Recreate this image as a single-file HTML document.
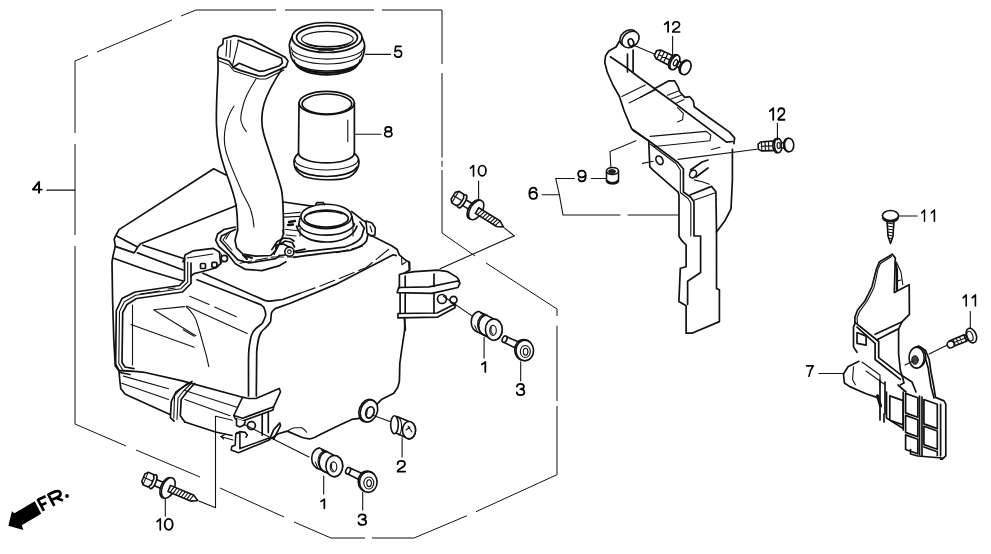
<!DOCTYPE html>
<html><head><meta charset="utf-8"><style>
html,body{margin:0;padding:0;background:#fff;}
body{width:991px;height:554px;overflow:hidden;}
svg{display:block;}
text{font-family:"Liberation Sans",sans-serif;font-size:17px;fill:#111;}
.l{fill:none;stroke:#111;stroke-width:1.7;stroke-linejoin:round;stroke-linecap:round;}
.t{fill:none;stroke:#111;stroke-width:1.1;stroke-linecap:round;}
.f{fill:#fff;stroke:#111;stroke-width:1.6;stroke-linejoin:round;}
.d{fill:none;stroke:#111;stroke-width:1;}
</style></head><body>
<svg width="991" height="554" viewBox="0 0 991 554">
<rect width="991" height="554" fill="#fff"/>
<!-- FRAME -->
<g class="d">
<path d="M75,133 V61 L88,55.5 M97,52 L172,20 M181,16 L196,10 H276 M285,10 H374 M382,10 H442 V64 M442,73 V157.6 M442,160.8 V166.8 M442,170 V233 L475,256 M486,263 L557,309 V316 M557,325.7 V401 M557,406 V474.7 L476,511.7 M467,515.7 L414,538 H372 M365,538 H331 L294,522 M284,517 L220,488 M200,477 L136,450 M126,446 L75,424 V246 M75,235 V144"/>
</g>

<!-- TANK -->
<g class="l">
<!-- top ridge and top face -->
<path d="M226,175 L213.7,168.8 L119,229.6 L115.8,235.6 L137.5,247 L140.7,243.7 L236.5,205.5"/>
<path d="M115.8,235.6 L114.2,238.8 L115.3,246.4 L134.2,252.9 L137.5,247.5"/>
<path d="M115.3,246.4 L113,256 L112,262 L112.6,300 L113.8,340 L115.3,366 L119,370.7 L119.9,381.5 L120.8,388.7 L125.3,394.2 L170,414.5"/>
<path d="M184.8,422 L215.5,432 L232,435.5"/>
<path d="M113.7,258.3 L147.2,270.2 L183,281"/>
<path d="M137.5,252.9 L183,270"/>
<path d="M142.9,245.3 L185,259"/>
<!-- bracket top-left with holes -->
<path d="M183,262 L185.3,254.7 L192.9,250.9 L213,248.3 L219.4,252 L220.7,263.5 L215.6,268 L201.7,271.7 L194,273.6 L191,276"/>
<path d="M184.5,259.5 L184.5,280.5 L179.5,285.5 L135,292 L122,298.5 L116.3,310.5 L115.6,364 L120,372.5 L130,374.5"/>
<path d="M187.7,262 L187.7,282 L181,288.7 L135.7,295.2 L124.4,301.7 L119.5,311.5 L118.8,363.5 L122.7,370 L132.5,371.6" class="t"/>
<path d="M191,263 L191,283.5 L182.5,292 L136.5,298.5 L127,304.5 L122.7,312.5 L122,362.5 L125,367 L134,368.6"/>
<path d="M160,291 L140,294 M175,288 L168,289" stroke-width="2.2" class="t"/>
<rect x="200.5" y="263.5" width="5" height="5" rx="1"/>
<rect x="211.9" y="262.3" width="5" height="5" rx="1"/>
<path d="M187,258 L213,254" class="t"/>
<circle cx="224.3" cy="258.5" r="3.2"/>
<path d="M219.4,252 L222,255.5 M220.7,263.5 L222.5,261.5" class="t"/>
<!-- left panel lines -->
<path d="M130.9,324.5 L194.2,347.2" class="t"/>
<path d="M153.6,309.8 L184.5,306.6 M153.6,309.8 L195.8,335.8" class="t"/>
<path d="M186.1,306.6 C192,312 196,318 197.5,324.5 C200,332 202,340 204,347.2 C206,354 207.5,360 208.8,366.7" class="t"/>
<path d="M189.7,296.2 L209.2,304.4 M214.7,307.1 L236.3,316.8 M186.5,306 L247.2,333.6 M183.2,329.8 L194.1,336.3" class="t"/>
<path d="M132.5,305 L132.5,365" class="t"/>
<!-- duct base flange -->
<path d="M235.3,227 L224,229.5 L217.6,234 L215.7,240.3 L218.9,246.6 L229,255.5 L235.3,263.7 L245.5,269.4 L261.9,270.6 L279.6,265.6 L285.9,261.8"/>
<path d="M235.3,229.5 L221.4,235.9 L220.2,240.3 L230.3,251.7 L237.9,259.9 L249.2,263 L275.8,258.6 L279.6,255.5"/>
<path d="M227,234 L223,240 L232,250 M230,232 L226,239" class="t"/>
<path d="M237.6,230 L235,240.3 L236.6,247.9 L242.9,254.2 L255.6,256.1 L270.7,255.5 L275.8,250.4 L280.9,240.3 L283.5,234 L283,230"/>
<path d="M275.8,250 L276,245 L283.4,244 L289,247 M279.6,255.5 L285,255"/>
<path d="M271.8,249.6 L277.2,241.5 L284,238.1 L290,238.5 L294,241 M274,254 L278.5,245 L285.3,241 L292.1,242.5 L294.5,247"/>
<circle cx="289.4" cy="251.7" r="4.6" class="f"/>
<circle cx="289.4" cy="251.7" r="1.8" class="t"/>
<path d="M284,213.7 L300.2,212.4 M284,217.1 L300,216.4 M285.3,229.3 L297.5,230.7 M286,235 L296,236" class="t"/>
<path d="M289,222 L295,221 M288,225 L293,224.5" stroke-width="2.4"/>
<path d="M293.5,251.7 L305,249.1"/>
<path d="M246,256 L252,258 M243,255 L247,259" stroke-width="2"/>
<path d="M396.2,255.6 L393.2,254.8 L335.7,284.4 L290.3,303.3 L275.1,308.6 C273,310.5 271.8,312 271.4,313.1 C271,316 271,319 270.5,321.8 C268,326 264,329 261.2,332 C259.5,335 258,340 257.5,345 C257,348 256.7,350 256.7,352.2 L256.3,396"/>
<path d="M197,279.8 L239.6,296.2 L261.2,304.9 C263.5,306.5 264.5,308 264.5,309.2 C265.5,311.5 265.8,313.5 265.6,315.7 C264.5,319 263.5,321 262.3,323.3 C259,326 257,327.5 255.8,328.7 C253.5,331 252.2,333 251.5,335.2 C250.6,338 250.4,340 250.4,340 C249,346 248.5,352 248.5,360 L248.5,396"/>
<path d="M203,273.2 L264.7,300.4 C267,301.2 269,301.3 272,300.8 L282.7,299.5 L300,293.3"/>
<path d="M300,293.3 L320.5,285.9 L366,267.7 L390.2,248" class="t" stroke-dasharray="16,5"/>
<!-- tank top right side -->
<path d="M240,263.3 L272.9,257 L295.6,257 M336.5,252.7 L362.5,246.2" class="t" stroke-dasharray="12,4"/>
<!-- front-right vertical curved corner -->
<!-- right side -->
<path d="M404.7,318.8 L404.7,329.8 L401.7,349.6 L399.8,363.5 L399.4,381.3 L397.8,387.3 L393.8,393.3 L381.9,399.2 L376,405.2"/>
<!-- bottom -->
<path d="M359.3,418.3 L351.6,419.4 C340,425 325,432 315,437.2 C312,438.5 310.5,438.8 309.4,438.8 C306,438.5 304,438 301.6,437.2 L287.2,431.1 L278.3,433.8 L271.7,438.3"/>
<path d="M288.3,430.5 C291,428.5 293,427.7 295,427.7 L301.6,427.7 C303.5,428.5 305.5,430.5 306.6,432.2" class="t"/>
<ellipse cx="367.8" cy="410.6" rx="8.6" ry="11.6" transform="rotate(20 367.8 410.6)" class="f"/>
<ellipse cx="369" cy="411" rx="8.3" ry="11.3" transform="rotate(20 369 411)" class="f"/>
<ellipse cx="369.9" cy="412.4" rx="4" ry="5.8" transform="rotate(20 369.9 412.4)"/>
<path d="M367.5,408 L366.5,416" class="t" stroke-width="1.6"/>
<!-- lower band -->
<path d="M119,370.7 C130,371 140,372 145.1,372.5 L181.2,380.6 L244.4,397.8"/>
<path d="M123.5,376.1 L168.6,388.7 M121.7,383.3 L168.6,399.6 M184.8,390.5 L240.8,408.6 M184.8,399.6 L230,415.8" class="t"/>
<!-- vertical strap -->
<path d="M192,381.5 L183,387 L175.8,392.3 L171.3,401.4 L170.4,417.6 L174,421.2"/>
<path d="M194.8,383.3 L186.6,392.3 L181.2,399.6 L180.3,415.8 L184.8,422.1"/>
<path d="M188.5,382.5 L180,389.5 L174.5,396 L173.8,418" class="t"/>
<path d="M191.5,383 L183.5,391 L178,398 L177,419.5" class="t"/>
<!-- bottom bracket -->
<path d="M262.2,414.1 L262.2,435.1 M268.3,412.1 L268.3,432.4"/>
<path d="M269.7,439.2 L273.7,429.7 L279.8,422.9 L280.5,425.6 L273.7,439.2"/>
<path class="f" d="M235.8,433.7 L235.2,445.2 L231.8,446.6 L231.1,450 L238.5,452.7 L269.7,439.8 L269.7,437.8 L239.9,448.6 L239.9,433 Z"/>
<path d="M236.5,433.1 L239.9,431.7 L245.3,432.4 L247.3,435.1 L246,437.1"/>
<circle cx="251.4" cy="425.6" r="4"/>
<path class="f" d="M242.6,397.2 L248.7,398.5 L256.1,398.5 L279.2,388.4 L280.5,391.8 L273.7,406.7 L273,410 L242.6,420.9 L235.2,418.8 L233.8,415.5 Z"/>
<path d="M233.8,415.5 L242.6,418.2 L273.7,406.7"/>
<path class="f" d="M236.5,418.8 L236.5,425.6 L239.9,427 L244,425 L245.3,421.6"/>
<path d="M216,416.3 L232.3,420.3" class="t"/>
<path d="M215.5,416.3 V507.6" class="t"/>
<path d="M220.5,436.5 L233,440 M221,436.6 L224.5,434.8 M221,436.6 L223.5,439" class="t"/>

</g>

<!-- RING 5 -->
<g class="l">
<path d="M292,37 C290,41 289,45 289.5,47 C290,53 291,58 293,61 L296.4,65 A31,12 0 0 0 357,65.6 L361,61 C363,57 364.5,52 364.7,46 C365,43 363,40 362,37" />
<ellipse cx="327" cy="37.5" rx="35" ry="15"/>
<ellipse cx="327" cy="37.5" rx="30.5" ry="11.8"/>
<ellipse cx="327.4" cy="39" rx="25.9" ry="7.6" class="t"/>
<path d="M306,43 A22,5 0 0 0 349,43" class="t"/>
<path d="M291,47 A36,12 0 0 0 364,47" class="t"/>
<path d="M292,52 A35,12 0 0 0 362,52" class="t"/>
<path d="M294,60 A33,11 0 0 0 360,60" />
<path d="M296.5,65 A31,10 0 0 0 357,65" stroke-width="2.2"/>
<path d="M319,49.5 L333,49.5" stroke-width="2.4"/>
</g>
<!-- PIPE 8 -->
<g class="l">
<ellipse cx="326.7" cy="103" rx="27.7" ry="11.7"/>
<ellipse cx="326.9" cy="104" rx="24.8" ry="10"/>
<path d="M299,103 L298.5,153.5 M354.4,103 L354.4,153.5"/>
<path d="M347.8,120 L347.8,141.8" class="t"/>
<path d="M298.5,153.5 C295,156 294,159 294,162.6 C294,168 297,173 304,176.5 C314,180.5 340,181 349,177 C355,174 359,168 359,162.6 C359,159 358,156 354.4,153.5"/>
<path d="M298.5,153.5 A28,10 0 0 0 354.4,153.5" />
<path d="M295,160 A31.5,10 0 0 0 358,160" class="t"/>
<path d="M296,167 C300,174 315,176.5 326.7,176.5 C338,176.5 353,174 357,167" />
</g>
<!-- DUCT -->
<g class="l">
<path d="M223.3,38.9 L234.5,35.6 L239.2,36.6 L247.7,39.4 L251.4,39.4 L285.2,57.2 L288,61 L286.2,66.6 L264.6,76 L259,76 L240.2,70.4 L233.6,67.6 L228.9,61 L217.6,57.2 L217.6,51.6 L218.6,47.4 L222.8,44.1 Z"/>
<path d="M238.3,40.3 L281.5,58.2 L282.4,62.9 L279.6,65.7 L264.6,70.8 L259,71.3 L239.2,63.3 L235.5,65.7 L232.7,67.1"/>
<path d="M238.3,40.3 L237.4,46 L234.5,57.2 L232.7,64.7" class="t"/>
<path d="M227,40.3 L226,56.3 M230.8,40.3 L229.8,57.2" class="t"/>
<path d="M219,61 L229,65 L234,71 L259,79 L266,79 L284,70" class="t"/>
<path d="M218,56.6 L218,72 C217,90 216,110 216.5,125 C217,140 220,155 224.7,168.5 C229,181 234,193 236,205 C237.5,215 237.6,222 237.6,230"/>
<path d="M283,67.4 C276,78 268,90 264,104 C261,115 261,125 264,135 C270,155 278,175 281.5,190 C283.5,200 283.5,215 283.5,234"/>
<path d="M256,79 C249,90 244,100 243,106 C241,113 240.5,118 241,121 C242,126 244,129 246.3,131.7" class="t"/>
<path d="M234,106 C230,112 226,120 224.7,131.7 C223.5,142 225,150 228,157.6 C233,172 239,184 242,192.3 C246,200 249,205 250.6,209.6 C252.5,215 253.5,221 254,227" class="t"/>
</g>
<!-- FILLER NECK -->
<g class="l">
<path d="M283.4,202 L313.6,206.4"/>
<path d="M351.5,211.3 L362.3,219.9 L366,222"/>
<path d="M299,224.5 C302,231 312,235.1 326.6,235.1 C342,235.1 352,230 354.5,224"/>
<path d="M296.5,226 C299,237 312,242 326.6,242 C341,242 354,236.5 357,226"/>
<path d="M300,228 L300,236 M353,228 L353,236" class="t"/>
<path d="M296,252.7 C315,250 335,248.5 345.4,246.8 C354,244 360,240 361.8,236.3 L364.2,228 L360,222"/>
<path d="M293.8,257.4 C315,254 338,252 350,250.4 C358,248 364,245 366.5,241 L368.9,230.4 L366,222"/>
<path d="M300,218 L298.4,226.4 M352,216.5 L353.7,226.4"/>
<ellipse cx="326.3" cy="216.4" rx="25.4" ry="12.2" class="f"/>
<ellipse cx="326.3" cy="218.6" rx="22" ry="8.4"/>
<path d="M308,223 A18,5 0 0 0 344,223" class="t"/>
<path d="M310,214 A17,4 0 0 1 342,214" class="t"/>
<path d="M315.8,204.5 L317,202.6 L323.3,202.6 L324.5,204.5" />
<path d="M366,221 L372,223 L375.3,228 L375,235 L371,236 L367,233 Z" class="f"/>
<path d="M370,226 L372,232" class="t"/>
<path d="M371.2,235.4 L391.7,245.7 L397.2,249.5 L399.3,254.9 L405.8,260.3 L409.6,262.5 L409.6,270"/>
<path d="M401.5,258 L402,264.7 L405.8,262" class="t"/>
</g>

<defs>
<g id="bolt10">
<path class="f" d="M7,-3.3 L22,-3.3 L22,3.3 L7,3.3 Z"/>
<ellipse class="f" cx="20.5" cy="0.3" rx="6" ry="10.8"/>
<ellipse class="f" cx="22" cy="0" rx="6" ry="10.8"/>
<path class="f" d="M23,-3.3 L48,-3.3 L54,0 L48,3.3 L23,3.3 Z"/>
<path class="t" d="M27,-3 L25.5,3 M30,-3 L28.5,3 M33,-3 L31.5,3 M36,-3 L34.5,3 M39,-3 L37.5,3 M42,-3 L40.5,3 M45,-3 L43.5,3 M48,-3 L46.5,3" stroke-width="1.2"/>
<ellipse class="f" cx="5.5" cy="0" rx="2.8" ry="7.4"/>
<path class="f" d="M-5,-4 L-2.5,-6.8 L3,-6.8 L5,-3.5 L5,3.5 L3,6.8 L-2.5,6.8 L-5,4 Z"/>
<path class="t" d="M-5,-0.3 L5,-0.3 M-2.6,-6.4 L-2.6,6.4"/>
</g>
<g id="part1">
<path class="f" d="M-15,-18.2 L0,-10.6 A8.4,10.6 0 0 1 0,10.6 L-15,2.9 A8.4,10.6 0 0 1 -15,-18.2 Z"/>
<path class="t" d="M-6.5,-14.5 A8.4,10.6 0 0 0 -6.5,6.7 M-9,-15.5 A8.4,10.6 0 0 0 -9,5.5" stroke-width="1.5"/>
<path class="t" d="M-7.8,-15 A8.4,10.6 0 0 0 -7.8,6.1" stroke-width="0.8"/>
<path class="t" d="M-19,-4 L-16,3 M-13,-16 L-10,-15" />
<ellipse class="f" cx="0" cy="0" rx="8.4" ry="10.6"/>
<ellipse class="t" cx="-0.8" cy="0.8" rx="3.3" ry="5"/>
<path class="t" d="M-2.5,-2 A3,4.5 0 0 0 -1,4.5" stroke-width="1.4"/>
</g>
<g id="part3">
<path class="f" d="M-19,-14.2 L-6,-8.5 L-8.5,-2 L-21.5,-8.5 Z"/>
<ellipse class="f" cx="-20.2" cy="-11.3" rx="2.2" ry="3.4" transform="rotate(25 -20.2 -11.3)"/>
<ellipse class="f" cx="-1.3" cy="-0.6" rx="8.8" ry="10.4"/>
<ellipse class="f" cx="0" cy="0" rx="8.8" ry="10.4"/>
<ellipse class="t" cx="0.5" cy="1" rx="5" ry="6"/>
<ellipse class="t" cx="0.8" cy="1.2" rx="2.3" ry="3.4"/>
</g>
</defs>
<use href="#bolt10" transform="translate(457.5,198.4) rotate(31.8)"/>
<use href="#bolt10" transform="translate(148,479.5) rotate(22.8)"/>
<use href="#part1" transform="translate(493.8,329.6)"/>
<use href="#part1" transform="translate(334.3,466.1)"/>
<use href="#part3" transform="translate(524.8,350.5)"/>
<use href="#part3" transform="translate(368.3,482)"/>
<!-- leaders (dashed-ish) -->
<g class="t">
<path d="M504,227.6 L514.3,235.8 L440,268.7"/>
<path d="M198.9,501 L215,507.6"/>
<path d="M443.4,296.2 L472.6,316.4"/>
<path d="M372,415 L390.7,421.8"/>
<path d="M244,424.3 L309,457"/>
</g>
<!-- PART 2 -->
<g class="l">
<path class="f" d="M397,416.5 L409,421.5 A6.5,8.7 0 0 1 409,439 L396,433 Z"/>
<ellipse class="f" cx="409" cy="430.2" rx="6.5" ry="8.7"/>
<ellipse class="f" cx="394.5" cy="424.8" rx="3.8" ry="9"/>
<path class="t" d="M399,418 A3.8,9 0 0 1 399,435 M408,426 L412,432 M406,430 L410,427"/>
</g>
<!-- BLOCK on tank right -->
<g class="l">
<path d="M408.8,261.6 L409.5,270.2 L404.4,273.1 L399.4,274.5 L399.4,288"/>
<path d="M404.4,273.1 L414.5,271.7 L437.7,270.2 L447.8,271.7 L457.1,277.4 L459.3,281"/>
<path d="M398.7,287.5 L429,286.8 L457.9,281 L460,283.2 L457.9,287.5 L431.9,293.3 L397.2,292.6 Z"/>
<path d="M400.1,293 L400.1,313.5 M434,274 L434,286.5 M434,293.3 L434,313 M405.2,276 L405.2,287 M405.2,293 L405.2,313"/>
<path d="M398,313.5 L398,317.9 L437.7,317.1 L455,307.8 L455,304 L437,313 L398,313.5"/>
<circle cx="442" cy="299" r="4.5"/>
<circle cx="453.5" cy="299.8" r="3.5"/>
<path d="M404.4,317.9 L405.4,330"/>
</g>

<!-- BRACKET 6 -->
<g class="l">
<path d="M619.4,41.2 L616,47 L608.8,51 L605.6,55.8 L604.7,62.3 L607.2,72 L612.9,85 L619.4,96.4 L624.2,111 L631.7,128.8 L646.8,139.6 L648.7,140.8 L649.8,166.9 L653,170.1 L677.9,191.8 L679,195 L679,236.2 L681.8,240.7 L686.1,245 L686.1,266.7 L680.3,268.2 L678.9,301.4 L686.1,305.7 L686.1,333.2 L691.9,333.2 L719.4,321.6 L719.4,289.8 L716.5,288.4 L716.5,232 L725.1,220.5 L731,208.9 L732.4,180 L732.4,149.3"/>
<path d="M610.4,56.7 L625.8,67.2 L640,78 L674.7,103.2 L720.9,137.9 L726.7,142.2 L732.4,141.5"/>
<path d="M654.4,88.8 L668.9,80.8 L674.7,80.8 L678.3,87.3 L679.7,91.7 L684.8,97.4 L689.8,96.7 L693.4,101 L694.2,106.8 L709.3,117.7 L729.5,132.1 L734.6,137.9 L733.9,143.7"/>
<path d="M667.4,95.3 L678.3,91 M671,98.9 L681.2,95.3 M676.1,103.2 L684,99.6" class="t"/>
<path d="M650.1,136.4 L706.4,131.4 L710.8,135 L710,140.8 L654.4,146.5" class="t"/>
<path d="M640,97.4 L654.4,89.5 M677.5,107.6 L683.3,113.3 L682.6,119.8 L677.5,122" class="t"/>
<path d="M627.5,54 L627.5,72 M633.1,50 L633.1,72"/>
<path d="M621.8,96.4 L645.3,85 M629,103 L655,90" class="t"/>
<path d="M632.9,130.3 L648.7,140.8 L677.9,162.5 L683.4,169 L683.4,192 L690.5,197 L694,202 L694,236 L700.6,236 L700.6,272.5 L687.6,281.2 L687.6,304.3"/>
<path d="M650,144 L676,163.5 L680.3,170 L680.3,192.5 L688,198.5 L690.8,203 L690.8,236" class="t"/>
<path d="M689.9,195 L711.5,186.4 L715.9,191.8 L716.5,232"/>
<path d="M693.1,200.5 L714.8,192.9" class="t"/>
<path d="M694.2,179.9 L702.9,182 L709.4,184.2 M711.5,149.5 L720,147.3" class="t"/>

<ellipse cx="659.5" cy="160.3" rx="3.2" ry="4.6" transform="rotate(-30 659.5 160.3)"/>
<path d="M690.5,170 L702,162 L708,160 M696,177 L708,168"/><ellipse cx="693" cy="174" rx="3.2" ry="4.2" transform="rotate(30 693 174)" class="f"/>


<ellipse cx="628.5" cy="38" rx="9.5" ry="7.2" transform="rotate(-40 628.5 38)" class="f"/>
<ellipse cx="630.5" cy="39.5" rx="9.5" ry="7.2" transform="rotate(-40 630.5 39.5)" class="f"/>
<ellipse cx="631" cy="42.5" rx="2.6" ry="3.8" transform="rotate(-20 631 42.5)"/>
</g>
<g class="t">
<path d="M633,45 L655,54.2"/>
<path d="M678,159.4 L757,149.3"/>
<path d="M636,140.7 L610,151.5 L611,170"/>
<path d="M642.5,163.4 L653.3,161.3"/>
</g>
<!-- SCREW 12 (clip) -->
<defs>
<g id="clip12">
<path class="f" d="M0,-2.5 L3,-4.5 L14,-4.8 L16.5,-4 L16.5,4 L14,4.8 L3,4.5 L0,2.5 Z"/>
<path class="t" d="M3.5,-4.3 L3.5,4.3 M7,-4.6 L7,4.6 M10.5,-4.7 L10.5,4.7 M3,0 L14,0" stroke-width="1.2"/>
<ellipse class="f" cx="18.5" cy="0" rx="3.8" ry="7.2"/>
<ellipse class="f" cx="20" cy="0" rx="3.8" ry="7.2"/>
<ellipse class="t" cx="20.5" cy="0" rx="1.6" ry="3"/>
<path class="f" d="M23,-2.6 L27.5,-2.6 L27.5,2.6 L23,2.6 Z"/>
<ellipse class="f" cx="30" cy="0" rx="4.6" ry="6.8"/>
<ellipse class="f" cx="31" cy="0" rx="4.6" ry="6.8"/>
</g>
</defs>
<use href="#clip12" transform="translate(655.5,53) rotate(26) scale(1.08)"/>
<use href="#clip12" transform="translate(758.2,146.6) rotate(-3)"/>
<!-- NUT 9 -->
<g class="l">
<path class="f" d="M606.5,171 L606.5,180 A6,3.5 0 0 0 618.5,180 L618.5,171 Z"/>
<ellipse class="f" cx="612.5" cy="171" rx="6" ry="3.5"/>
<ellipse cx="612" cy="171.5" rx="3.6" ry="2" fill="#222" stroke="#111" stroke-width="0.8"/>
<path d="M607,181 A5.8,3.3 0 0 0 618,181" stroke-width="2.6"/>
</g>

<!-- PART 7 -->
<g class="l">
<path d="M892.3,254.3 L879.3,262.1 L876.6,268.5 C874,278 873,283 872,286.5 C869,293 867,297 864.9,301 C861,306 859,308 857.6,310 L854.9,317.2 L854.9,322.6"/>
<path d="M891.5,256.5 L880.5,263.5 L878,269 C876,279 875,284 874,287.5 C871,294 869,298 866.5,302 C863,307 861,309.5 859.5,311.5 L857,318 L857.5,323" class="t"/>
<path d="M892.3,254.3 L895.3,257.9 L894.3,292.6 L909.2,284.7 L909.4,314.4 L902.2,321.7 L898.6,328.9 L898.6,354.1 L900.4,370.4 L902.2,375.8"/>
<path d="M896.4,262.1 L901,272 L902.8,284.7 M897.3,281.1 L901,280" class="t"/>
<path d="M895.5,263 L897,270 L897,290" stroke-width="2.2"/>
<path d="M875.1,334.3 L902.2,321.7 M876.9,339.7 C885,336 893,331 898.6,328.9"/>
<path d="M855.3,322.6 L878.7,341.5 L878.7,357.7 L902.2,375.8 L904,383 L900.4,384.8"/>
<path d="M855.3,322.6 L853.5,327.1 L853.5,346.9 L857,352.3"/>
<path d="M857,327.1 L875.1,343.3 L875.1,359.5 L900.4,379.4"/>
<path d="M857,332.5 L866.1,336.1 L866.1,345.1 L857,343.3 Z"/>
<path d="M918.4,346 L925.6,350.5 L929.2,359.5 L931,372.2 L933.8,386.6 L935.5,397.4 L944,400.9 L945.8,404.3 L945.8,455.8 L942.3,459.2 L940.6,459.2"/>
<path d="M923.8,352.3 L928.3,368.6 L931,386.6 L934,398 M940.6,404.3 L940.6,455.8"/>
<ellipse cx="918" cy="357" rx="7.6" ry="10.4" class="f"/>
<ellipse cx="916.6" cy="357.7" rx="7.6" ry="10.4" class="f"/>
<ellipse cx="915" cy="360" rx="3.2" ry="4.2" fill="#444" stroke="#111" stroke-width="1"/>
<path d="M905,365 L913,361" class="t"/>
<path d="M858.9,361.3 L848,366.8 L843.5,374 L844.4,383 L849.8,386.6 L866.1,393.8 L876.9,397.4"/>
<path d="M853.5,366.8 L852.6,379.4 L855.3,384.8" class="t"/>
<path d="M919.5,396 L919.5,455 M922,397 L922,455.5"/>
<path d="M923.9,399.5 L937.3,404.2 L937.3,428.6 L923.9,423.9 Z M923.9,426.3 L937.3,431 L937.3,449.3 L923.9,444.6 Z M923.9,447 L937.3,451.7 L937.3,455.5"/>
<path d="M905.6,393.4 L917.8,397.7 L917.8,417.2 L905.6,412.9 Z M905.6,415.4 L917.8,419.7 L917.8,436.7 L905.6,432.4 Z M905.6,434.9 L917.8,439.2 L917.8,453.8 L905.6,449.5 Z"/>
<path d="M889.8,395.9 L903.2,400.6 L903.2,424.9 L889.8,420.2 Z"/>
<path d="M903.2,392 L903.2,430 M886.5,392 L886.5,418 L903.2,428.5"/>
<path d="M910.5,449.5 L910.5,454 L917.8,456 L942.2,458"/>
<path d="M880,380 L880,412 M885,382 L885,414"/>
<path d="M877.5,395.7 L880.6,406" stroke-width="3"/>
<path d="M880,412 L880,420 M884,414 L884,422"/>
<path d="M862,362 L880,375 L880,386 M866,371 L884,384" class="t"/>
<path d="M902.2,375.8 L912,382 L916,392 M898,385 L906,392"/>
</g>
<g class="t">
<path d="M929.2,354.1 L947.3,345.1"/>
</g>
<!-- SCREW 11 (right) -->
<g class="l" transform="translate(950.5,344) rotate(-22)">
<path class="f" d="M0,-3.2 L16,-3.6 L16,3.6 L0,3.2 Z"/>
<path class="t" d="M4,-3.3 L4,3.3 M7.5,-3.4 L7.5,3.4 M11,-3.5 L11,3.5 M0,0 L16,0" stroke-width="1.1"/>
<ellipse class="f" cx="0" cy="0.5" rx="3.6" ry="3.4"/>
<path class="f" d="M16,-2.6 L19.5,-2.6 L19.5,2.6 L16,2.6 Z"/>
<ellipse class="f" cx="22.5" cy="0" rx="4.8" ry="7.6"/>
<ellipse class="t" cx="21" cy="0" rx="2.8" ry="5"/>
</g>
<!-- SCREW 11 (top) -->
<g class="l">
<path class="f" d="M887,220 L894,220 L893,236 L890.5,243.5 L888,236 Z"/>
<path class="t" d="M887,223 L894,224 M887.2,226 L893.8,227 M887.5,229 L893.5,230 M887.8,232 L893.2,233 M888,235 L893,236 M888.8,238 L892.2,239"/>
<path class="f" d="M882.5,215.5 C882.5,220 886,222 890.5,222 C895,222 898.5,220 898.5,215.5 Z"/>
<ellipse class="f" cx="890.5" cy="215.5" rx="8" ry="5"/>
</g>
<!-- LABELS -->
<defs>
<g id="d0"><ellipse cx="4.6" cy="6.25" rx="3.75" ry="5.4"/></g>
<g id="d1"><path d="M0.85,3.6 L4.2,0.85 L4.2,11.65"/></g>
<g id="d2"><path d="M1,4 C1,1.9 2.5,0.85 4.6,0.85 C6.8,0.85 8.2,2.2 8.2,4 C8.2,5.7 7,6.7 5,7.8 C2.6,9.2 1.1,10.3 0.95,11.65 L8.35,11.65"/></g>
<g id="d3"><path d="M0.95,3.5 C1.3,1.8 2.7,0.85 4.6,0.85 C6.6,0.85 7.9,2 7.9,3.4 C7.9,5 6.6,5.95 4.4,5.95 C6.9,5.95 8.35,7.2 8.35,8.9 C8.35,10.6 6.8,11.65 4.6,11.65 C2.4,11.65 1,10.6 0.85,9"/></g>
<g id="d4"><path d="M6.3,11.65 L6.3,0.85 L0.85,8.6 L8.6,8.6"/></g>
<g id="d5"><path d="M7.8,0.85 L2,0.85 L1.3,6.2 C2.2,5.3 3.3,4.9 4.6,4.9 C6.8,4.9 8.35,6.3 8.35,8.3 C8.35,10.3 6.8,11.65 4.5,11.65 C2.6,11.65 1.1,10.7 0.85,9.2"/></g>
<g id="d6"><path d="M7.9,3.3 C7.5,1.8 6.3,0.85 4.7,0.85 C2.1,0.85 0.85,3.1 0.85,6.6 C0.85,10 2.3,11.65 4.7,11.65 C6.9,11.65 8.35,10.2 8.35,8.2 C8.35,6.2 6.9,4.9 4.8,4.9 C3,4.9 1.6,5.8 1,7.1"/></g>
<g id="d7"><path d="M0.85,0.85 L8.35,0.85 C5.8,3.8 4,7.8 3.4,11.65"/></g>
<g id="d8"><ellipse cx="4.6" cy="3.5" rx="3.2" ry="2.65"/><ellipse cx="4.6" cy="8.65" rx="3.75" ry="3.0"/></g>
<g id="d9"><path d="M1.3,9.2 C1.7,10.7 2.9,11.65 4.5,11.65 C7.1,11.65 8.35,9.4 8.35,5.9 C8.35,2.5 6.9,0.85 4.5,0.85 C2.3,0.85 0.85,2.3 0.85,4.3 C0.85,6.3 2.3,7.6 4.4,7.6 C6.2,7.6 7.6,6.7 8.2,5.4"/></g>
</defs>
<g class="dg" fill="none" stroke="#000" stroke-width="1.75" stroke-linecap="round" stroke-linejoin="round">
<use href="#d4" transform="translate(32,181) scale(1.122,1.000)"/>
<use href="#d5" transform="translate(393.8,45.5) scale(0.935,0.992)"/>
<use href="#d8" transform="translate(383.8,126.1) scale(0.978,0.920)"/>
<use href="#d1" transform="translate(469.7,164.7) scale(0.911,0.960)"/>
<use href="#d0" transform="translate(477.6,164.7) scale(1.000,0.960)"/>
<use href="#d6" transform="translate(528.5,186.8) scale(1.022,1.040)"/>
<use href="#d9" transform="translate(577.3,169.7) scale(1.011,1.008)"/>
<use href="#d1" transform="translate(663.8,20.9) scale(1.030,0.952)"/>
<use href="#d2" transform="translate(671.9,20.9) scale(0.935,0.952)"/>
<use href="#d1" transform="translate(768.9,107.3) scale(1.030,1.064)"/>
<use href="#d2" transform="translate(777.3,107.3) scale(0.880,1.064)"/>
<use href="#d1" transform="translate(921.1,209.2) scale(0.812,1.016)"/>
<use href="#d1" transform="translate(930.6,209.2) scale(0.911,1.016)"/>
<use href="#d1" transform="translate(962.4,294.1) scale(0.911,1.008)"/>
<use href="#d1" transform="translate(971.5,294.1) scale(0.931,1.008)"/>
<use href="#d7" transform="translate(805.9,365) scale(0.880,0.968)"/>
<use href="#d1" transform="translate(481,361.1) scale(1.030,0.944)"/>
<use href="#d3" transform="translate(515.9,383) scale(1.011,1.040)"/>
<use href="#d2" transform="translate(396.6,460.1) scale(1.022,0.984)"/>
<use href="#d1" transform="translate(320.1,498.4) scale(1.010,0.864)"/>
<use href="#d3" transform="translate(357.6,513.5) scale(1.022,0.984)"/>
<use href="#d1" transform="translate(156.2,518) scale(0.970,1.016)"/>
<use href="#d0" transform="translate(163.8,518) scale(1.065,1.016)"/>
</g>
<path d="M8.4,525.7 L11.9,511.3 L14.4,513.3 L34.7,501.3 L41.2,513.7 L21.8,525.2 L23.3,530.1 Z" fill="#000"/>
<path d="M45.6,496.2 L38,499.8 L43.9,510.8 M40.9,505.4 L46.4,502.8 M54.3,505.8 L48.4,494.6 L55,491.6 C58,490.4 60.2,491.4 60.5,493.4 C60.8,495.3 59.2,496.8 56.6,497.8 L51.4,500 M56.2,498 L63,500.6" fill="none" stroke="#000" stroke-width="2.7" stroke-linejoin="round"/>
<circle cx="67" cy="496" r="1.9" fill="#000"/>
<g class="t">
<path d="M46.8,190.1 H75"/>
<path d="M365.5,54.4 H390.5"/>
<path d="M354.4,134.2 H381"/>
<path d="M478.6,181 V200"/>
<path d="M542.3,194.8 H559.4 M555.7,178.5 H574.4 M555.7,178.5 L559.4,194.8 L563,215 H620 M628,215 H678"/>
<path d="M591.5,178.5 H606"/>
<path d="M672.6,36.4 V55"/>
<path d="M777.4,123.3 V140"/>
<path d="M899,216 H917.3"/>
<path d="M970.3,311.5 V328.3"/>
<path d="M818.9,373.5 H843.5"/>
<path d="M484.1,337.5 V358"/>
<path d="M520.7,361.9 V381"/>
<path d="M402.1,437.7 V457"/>
<path d="M323.7,476 V494"/>
<path d="M362.7,492.6 V510"/>
<path d="M165.3,499 V516.1"/>
</g>
</svg>
</body></html>
